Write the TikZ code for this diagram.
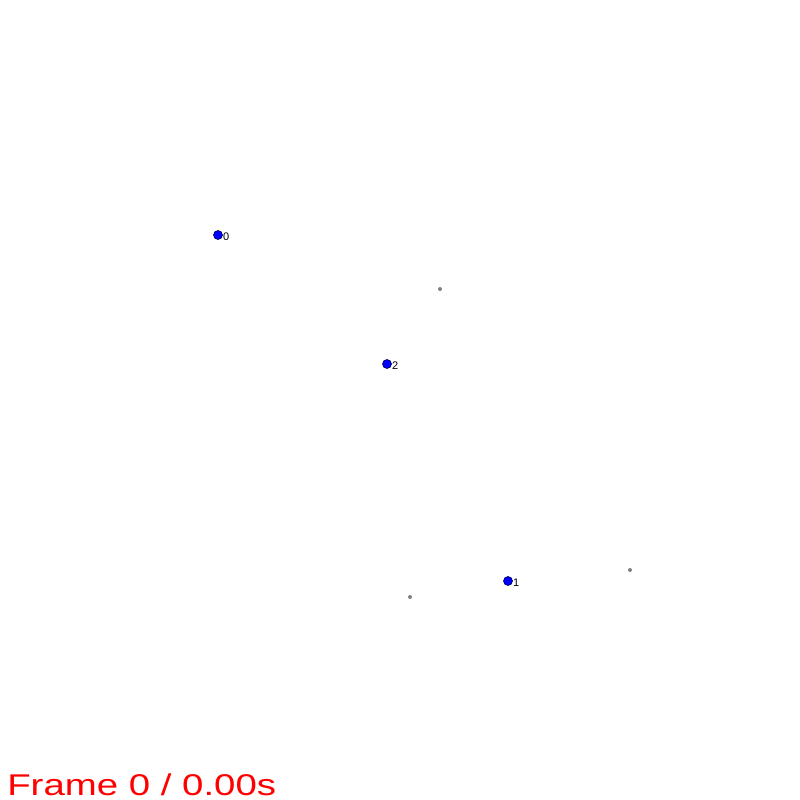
\documentclass[tikz,border=0pt]{standalone}
\usepackage{fontspec}
\setmainfont{Liberation Sans}
\begin{document}
\begin{tikzpicture}[x=1pt,y=-1pt,
  body/.style={circle,draw=black!70!blue,fill=blue,line width=0.6pt,minimum size=9pt,inner sep=0pt},
  marker/.style={circle,fill=gray,minimum size=4pt,inner sep=0pt},
  lab/.style={anchor=west,font=\fontsize{11}{11}\selectfont,inner sep=0pt},
  titletext/.style={anchor=base west,inner sep=0pt,text depth=0pt,text=red,font=\fontsize{30}{30}\selectfont,xscale=1.28}]
\useasboundingbox[fill=white] (0,0) rectangle (800,800);
\node[body] (n0) at (218,235) {};
\node[lab] (l0) at (223,237) {0};
\node[body] (n2) at (387,364) {};
\node[lab] (l2) at (392,366) {2};
\node[body] (n1) at (508,581) {};
\node[lab] (l1) at (513,583) {1};
\node[marker] (m1) at (440,289) {};
\node[marker] (m2) at (630,570) {};
\node[marker] (m3) at (410,597) {};
\node[titletext] (title) at (7,795) {Frame 0 / 0.00s};
\end{tikzpicture}
\end{document}
